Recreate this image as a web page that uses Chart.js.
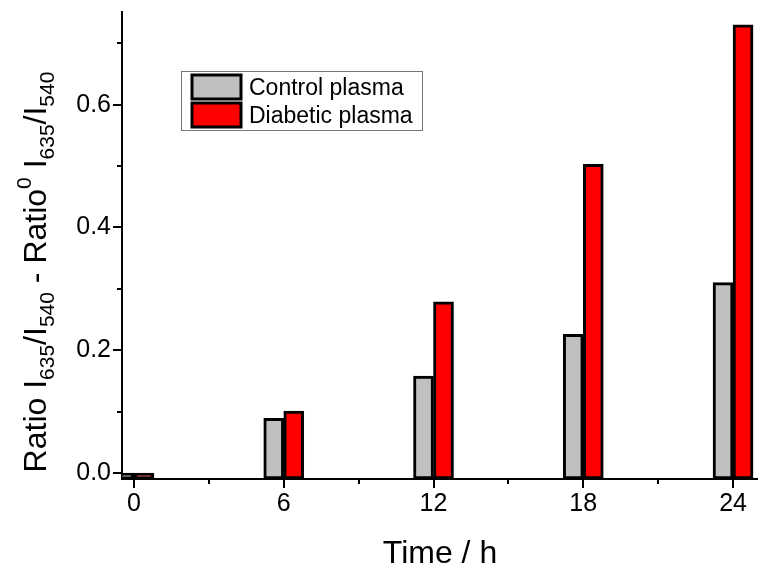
<!DOCTYPE html>
<html>
<head>
<meta charset="utf-8">
<script src="https://cdn.jsdelivr.net/npm/chart.js@4.4.0/dist/chart.umd.min.js"></script>
<style>
  html, body { margin: 0; padding: 0; background: #fff; }
  #wrap { width: 758px; height: 573px; }
</style>
</head>
<body>
<div id="wrap"><canvas id="chart" width="758" height="573"></canvas></div>
<script>
// data
const times = [0, 6, 12, 18, 24];
const controlPlasma = [0.0, 0.089, 0.158, 0.226, 0.310];
const diabeticPlasma = [0.0, 0.101, 0.279, 0.503, 0.730];
const seriesNames = ['Control plasma', 'Diabetic plasma'];
const xMajorTicks = [0, 6, 12, 18, 24];
const xMinorTicks = [3, 9, 15, 21];
const yMajorTicks = [0.0, 0.2, 0.4, 0.6];
const yMinorTicks = [0.1, 0.3, 0.5, 0.7];

const FONT = '"Liberation Sans", Arial, sans-serif';
const Y_MIN = -0.0098, Y_MAX = 0.751;
const X_MIN = -0.48, X_MAX = 25;

// minor + major tick marks (outward) and the y tick labels
const tickMarks = {
    id: 'tickMarks',
    afterDraw(chart) {
        const { ctx, chartArea, scales } = chart;
        ctx.save();
        ctx.strokeStyle = '#000';
        ctx.lineWidth = 2;
        ctx.beginPath();
        xMajorTicks.forEach(v => {
            const px = Math.round(scales.x.getPixelForValue(v));
            ctx.moveTo(px, chartArea.bottom);
            ctx.lineTo(px, chartArea.bottom + 9);
        });
        xMinorTicks.forEach(v => {
            const px = Math.round(scales.x.getPixelForValue(v));
            ctx.moveTo(px, chartArea.bottom);
            ctx.lineTo(px, chartArea.bottom + 5);
        });
        yMajorTicks.forEach(v => {
            const py = Math.round(scales.y.getPixelForValue(v));
            ctx.moveTo(chartArea.left, py);
            ctx.lineTo(chartArea.left - 9, py);
        });
        yMinorTicks.forEach(v => {
            const py = Math.round(scales.y.getPixelForValue(v));
            ctx.moveTo(chartArea.left, py);
            ctx.lineTo(chartArea.left - 5, py);
        });
        ctx.stroke();

        ctx.fillStyle = '#000';
        ctx.font = '25px ' + FONT;
        ctx.textAlign = 'right';
        ctx.textBaseline = 'middle';
        yMajorTicks.forEach(v => {
            ctx.fillText(v.toFixed(1), chartArea.left - 11, scales.y.getPixelForValue(v));
        });
        ctx.restore();
    }
};

// y title with sub / superscripts
const yTitle = {
    id: 'yTitle',
    afterDraw(chart) {
        const ctx = chart.ctx;
        const parts = [
            { t: 'Ratio I', k: 'n' }, { t: '635', k: 'sub' }, { t: '/I', k: 'n' }, { t: '540', k: 'sub' },
            { t: ' - Ratio', k: 'n' }, { t: '0', k: 'sup' }, { t: ' I', k: 'n' }, { t: '635', k: 'sub' },
            { t: '/I', k: 'n' }, { t: '540', k: 'sub' }
        ];
        const fontFor = k => (k === 'n' ? '32px ' : '21px ') + FONT;
        ctx.save();
        let total = 0;
        parts.forEach(p => {
            ctx.font = fontFor(p.k);
            p.w = ctx.measureText(p.t).width;
            total += p.w;
        });
        ctx.translate(46, 272);
        ctx.rotate(-Math.PI / 2);
        ctx.fillStyle = '#000';
        ctx.textBaseline = 'alphabetic';
        let x = -total / 2;
        parts.forEach(p => {
            ctx.font = fontFor(p.k);
            const dy = p.k === 'sub' ? 8 : (p.k === 'sup' ? -15 : 0);
            ctx.fillText(p.t, x, dy);
            x += p.w;
        });
        ctx.restore();
    }
};

// boxed legend inside the plot
const boxLegend = {
    id: 'boxLegend',
    afterDraw(chart) {
        const ctx = chart.ctx;
        ctx.save();
        ctx.strokeStyle = '#777';
        ctx.lineWidth = 1;
        ctx.strokeRect(181.5, 71.5, 241, 59);
        ctx.font = '23px ' + FONT;
        ctx.textBaseline = 'alphabetic';
        chart.data.datasets.forEach((ds, i) => {
            const top = 75 + i * 28;
            ctx.fillStyle = ds.backgroundColor;
            ctx.fillRect(192, top, 49, 24);
            ctx.strokeStyle = '#000';
            ctx.lineWidth = 3;
            ctx.strokeRect(192, top, 49, 24);
            ctx.fillStyle = '#000';
            ctx.fillText(ds.label, 249, top + 20);
        });
        ctx.restore();
    }
};

const ctx = document.getElementById('chart').getContext('2d');
new Chart(ctx, {
    type: 'bar',
    data: {
        datasets: [
            {
                label: seriesNames[0],
                data: times.map((t, i) => ({ x: t, y: controlPlasma[i] })),
                backgroundColor: '#c0c0c0',
                borderColor: '#000',
                borderWidth: 3,
                borderSkipped: false,
                barThickness: 20,
                base: Y_MIN,
                clip: 0
            },
            {
                label: seriesNames[1],
                data: times.map((t, i) => ({ x: t, y: diabeticPlasma[i] })),
                backgroundColor: '#ff0000',
                borderColor: '#000',
                borderWidth: 3,
                borderSkipped: false,
                barThickness: 20,
                base: Y_MIN,
                clip: 0
            }
        ]
    },
    options: {
        responsive: false,
        animation: false,
        devicePixelRatio: 1,
        layout: { padding: { top: 12, right: 0, left: 0, bottom: 0 } },
        plugins: {
            legend: { display: false },
            tooltip: { enabled: false }
        },
        scales: {
            x: {
                type: 'linear',
                offset: false,
                min: X_MIN,
                max: X_MAX,
                afterBuildTicks: scale => { scale.ticks = xMajorTicks.map(v => ({ value: v })); },
                afterFit: scale => { scale.height = 94; },
                grid: { display: false, drawTicks: false, offset: false },
                border: { display: true, color: '#000', width: 2 },
                ticks: {
                    autoSkip: false,
                    maxRotation: 0,
                    padding: 10,
                    color: '#000',
                    font: { family: FONT, size: 25 }
                },
                title: {
                    display: true,
                    text: 'Time / h',
                    color: '#000',
                    font: { family: FONT, size: 32 },
                    padding: { top: 6, bottom: 0 }
                }
            },
            y: {
                min: Y_MIN,
                max: Y_MAX,
                afterFit: scale => { scale.width = 122; },
                grid: { display: false, drawTicks: false },
                border: { display: true, color: '#000', width: 2 },
                ticks: { display: false }
            }
        }
    },
    plugins: [tickMarks, yTitle, boxLegend]
});
</script>
</body>
</html>
